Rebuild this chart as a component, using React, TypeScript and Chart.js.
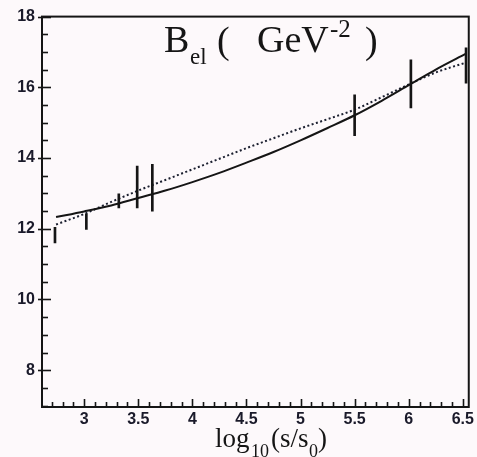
import React, { useEffect, useRef } from "react";
import { Chart, registerables } from "chart.js";

Chart.register(...registerables);

// Measured slope parameter B_el versus log10(s/s0)
const ENERGY_LOG = [2.73, 3.02, 3.32, 3.49, 3.63, 5.5, 6.02, 6.53];
const B_CENTER = [11.82, 12.2, 12.79, 13.18, 13.16, 15.21, 16.1, 16.62];
const B_ERROR = [0.22, 0.22, 0.2, 0.59, 0.66, 0.58, 0.68, 0.5];

// Model curves (solid and dotted)
const CURVE_X = [2.74, 3.0, 3.25, 3.5, 3.75, 4.0, 4.25, 4.5, 4.75, 5.0, 5.25, 5.5, 5.75, 6.0, 6.25, 6.53];
const SOLID_Y = [12.33, 12.49, 12.66, 12.87, 13.08, 13.32, 13.58, 13.87, 14.17, 14.5, 14.85, 15.21, 15.62, 16.06, 16.5, 16.95];
const DOTTED_Y = [12.12, 12.42, 12.76, 13.08, 13.38, 13.68, 13.98, 14.28, 14.56, 14.84, 15.1, 15.37, 15.72, 16.08, 16.42, 16.7];

const X_TICKS = [3, 3.5, 4, 4.5, 5, 5.5, 6, 6.5];
const Y_TICKS = [8, 10, 12, 14, 16, 18];

const INK = "#151515";
const SERIF = "'Liberation Serif', 'DejaVu Serif', serif";

const framePlugin = {
  id: "frameAndLabels",
  afterDraw(chart: any) {
    const { ctx, chartArea, scales } = chart;
    const { left, right, top, bottom } = chartArea;
    const xs = scales.x;
    const ys = scales.y;
    ctx.save();
    ctx.strokeStyle = INK;
    ctx.lineWidth = 2;
    ctx.strokeRect(left, top, right - left, bottom - top);

    // inward ticks on the left axis
    ctx.lineWidth = 1.6;
    for (let v = 7; v <= 18.001; v += 0.5) {
      const y = Math.round(ys.getPixelForValue(v)) + 0.5;
      if (y < top - 1 || y > bottom) continue;
      const major = Math.abs(v / 2 - Math.round(v / 2)) < 1e-6;
      ctx.beginPath();
      ctx.moveTo(major ? left - 4 : left, y);
      ctx.lineTo(left + (major ? 9 : 6), y);
      ctx.stroke();
    }
    // inward ticks on the bottom axis
    for (let i = 27; i <= 65; i++) {
      const v = i / 10;
      const x = Math.round(xs.getPixelForValue(v)) + 0.5;
      if (x < left || x > right) continue;
      const major = i % 5 === 0;
      ctx.beginPath();
      ctx.moveTo(x, bottom);
      ctx.lineTo(x, bottom - (major ? 8 : 5));
      ctx.stroke();
    }

    ctx.fillStyle = INK;
    ctx.textBaseline = "alphabetic";
    const put = (t: string, x: number, y: number, size: number) => {
      ctx.font = `${size}px ${SERIF}`;
      ctx.fillText(t, x, y);
    };
    // title B_el ( GeV^-2 )
    put("B", 164, 52, 38);
    put("el", 190, 64, 23);
    put("(", 217, 53, 38);
    put("GeV", 257, 52, 38);
    put("-2", 330, 37, 25);
    put(")", 365, 53, 38);

    // axis title log10(s/s0)
    put("log", 215, 447, 27);
    put("10", 251, 457, 18);
    put("(s/s", 271, 447, 27);
    put("0", 309, 457, 18);
    put(")", 318, 447, 27);
    ctx.restore();
  },
};

const bgPlugin = {
  id: "paper",
  beforeDraw(chart: any) {
    const { ctx, width, height } = chart;
    ctx.save();
    ctx.fillStyle = "#fdf9fb";
    ctx.fillRect(0, 0, width, height);
    ctx.restore();
  },
};

export default function App() {
  const ref = useRef<HTMLCanvasElement | null>(null);

  useEffect(() => {
    document.body.style.margin = "0";
    const canvas = ref.current;
    if (!canvas) return;

    const tickFont = { family: "'Liberation Sans', Arial, sans-serif", size: 16, weight: "bold" as const };

    const chart = new Chart(canvas, {
      type: "line",
      data: {
        datasets: [
          {
            type: "bar",
            data: ENERGY_LOG.map((x, i) => ({ x, y: [B_CENTER[i] - B_ERROR[i], B_CENTER[i] + B_ERROR[i]] })) as any,
            backgroundColor: INK,
            borderWidth: 0,
            barThickness: 2,
            grouped: false,
          } as any,
          {
            type: "line",
            data: CURVE_X.map((x, i) => ({ x, y: SOLID_Y[i] })),
            borderColor: INK,
            borderWidth: 2,
            pointRadius: 0,
            cubicInterpolationMode: "monotone",
            fill: false,
          },
          {
            type: "line",
            data: CURVE_X.map((x, i) => ({ x, y: DOTTED_Y[i] })),
            borderColor: "#1c2030",
            borderWidth: 2,
            borderDash: [2, 2.5],
            pointRadius: 0,
            cubicInterpolationMode: "monotone",
            fill: false,
          },
        ],
      },
      options: {
        responsive: false,
        animation: false,
        layout: { padding: { top: 15, right: 5, left: 0, bottom: 0 } },
        plugins: { legend: { display: false }, tooltip: { enabled: false } },
        scales: {
          x: {
            type: "linear",
            min: 2.61,
            max: 6.555,
            offset: false,
            grid: { display: false, drawTicks: false },
            border: { display: false },
            ticks: {
              font: tickFont,
              color: "#1a1a2a",
              padding: 3,
              maxRotation: 0,
              autoSkip: false,
              callback: (v: any) => String(v),
            },
            afterBuildTicks: (s: any) => {
              s.ticks = X_TICKS.map((value) => ({ value }));
            },
            afterFit: (s: any) => {
              s.height = 50;
            },
          },
          y: {
            type: "linear",
            min: 6.96,
            max: 18,
            grid: { display: false, drawTicks: false },
            border: { display: false },
            ticks: {
              font: tickFont,
              color: "#1a1a2a",
              padding: 7,
              autoSkip: false,
              callback: (v: any) => String(v),
            },
            afterBuildTicks: (s: any) => {
              s.ticks = Y_TICKS.map((value) => ({ value }));
            },
            afterFit: (s: any) => {
              s.width = 42;
            },
          },
        },
      },
      plugins: [bgPlugin, framePlugin],
    });

    return () => chart.destroy();
  }, []);

  return <canvas ref={ref} width={477} height={457} style={{ display: "block" }} />;
}
